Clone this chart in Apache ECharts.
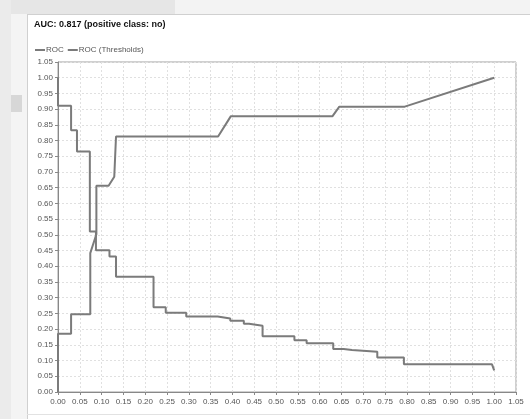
<!DOCTYPE html>
<html>
<head>
<meta charset="utf-8">
<script src="https://cdn.jsdelivr.net/npm/echarts@6/dist/echarts.min.js"></script>
<style>
html,body{margin:0;padding:0;background:#fff;}
#c{width:530px;height:419px;}
</style>
</head>
<body>
<div id="c"></div>
<script>
const titleText = 'AUC: 0.817 (positive class: no)';
const seriesNames = ['ROC', 'ROC (Thresholds)'];

const rocX = [0, 0, 0.030, 0.030, 0.074, 0.074, 0.088, 0.088, 0.116, 0.129, 0.133, 0.133, 0.367, 0.396, 0.629, 0.645, 0.795, 1.0];
const rocY = [0, 0.185, 0.185, 0.247, 0.247, 0.442, 0.502, 0.656, 0.656, 0.685, 0.685, 0.813, 0.813, 0.877, 0.877, 0.908, 0.908, 1.0];

const thrX = [0, 0, 0.030, 0.030, 0.0435, 0.0435, 0.073, 0.073, 0.087, 0.087, 0.118, 0.118, 0.133, 0.133, 0.219, 0.219, 0.247, 0.247, 0.294, 0.294, 0.366, 0.366, 0.395, 0.395, 0.426, 0.426, 0.438, 0.438, 0.469, 0.469, 0.542, 0.542, 0.570, 0.570, 0.631, 0.631, 0.655, 0.655, 0.674, 0.674, 0.732, 0.732, 0.793, 0.793, 0.995, 1.0];
const thrY = [1.0, 0.911, 0.911, 0.833, 0.833, 0.765, 0.765, 0.511, 0.511, 0.451, 0.451, 0.431, 0.431, 0.367, 0.367, 0.270, 0.270, 0.252, 0.252, 0.240, 0.240, 0.234, 0.234, 0.227, 0.227, 0.217, 0.217, 0.211, 0.211, 0.177, 0.177, 0.165, 0.165, 0.155, 0.155, 0.137, 0.137, 0.134, 0.134, 0.128, 0.128, 0.110, 0.110, 0.088, 0.088, 0.069];

const axisMin = 0, axisMax = 1.05, axisStep = 0.05;

const pairs = (xs, ys) => xs.map((x, i) => [x, ys[i]]);
const lineColor = '#7b7b7b';
const font = 'Liberation Sans, Arial, sans-serif';

const chart = echarts.init(document.getElementById('c'), null, {renderer: 'canvas'});
chart.setOption({
  backgroundColor: '#ffffff',
  animation: false,
  graphic: [
    {type: 'rect', z: -10, shape: {x: 0, y: 0, width: 530, height: 14}, style: {fill: '#e6e6e6'}},
    {type: 'rect', z: -10, shape: {x: 175, y: 0, width: 355, height: 14}, style: {fill: '#f3f3f3'}},
    {type: 'rect', z: -10, shape: {x: 0, y: 0, width: 11, height: 419}, style: {fill: '#ebebeb'}},
    {type: 'rect', z: -10, shape: {x: 11, y: 14, width: 16, height: 405}, style: {fill: '#f4f4f4'}},
    {type: 'rect', z: -10, shape: {x: 11, y: 95, width: 11, height: 17}, style: {fill: '#d7d7d7'}},
    {type: 'line', z: -10, shape: {x1: 27.5, y1: 14, x2: 27.5, y2: 419}, style: {stroke: '#d0d0d0', lineWidth: 1}},
    {type: 'line', z: -10, shape: {x1: 27, y1: 14.5, x2: 530, y2: 14.5}, style: {stroke: '#d0d0d0', lineWidth: 1}},
    {type: 'line', z: -10, shape: {x1: 27, y1: 414.5, x2: 530, y2: 414.5}, style: {stroke: '#e2e2e2', lineWidth: 1}},
    {type: 'text', left: 34, top: 20, style: {text: titleText, font: 'bold 9px ' + font, fill: '#111'}}
  ],
  legend: {
    left: 30, top: 41,
    itemWidth: 10, itemHeight: 2, itemGap: 4,
    icon: 'rect',
    textStyle: {fontSize: 8, color: '#555', fontFamily: font, padding: [0, 0, 0, -4]},
    data: seriesNames
  },
  grid: {left: 58, right: 14, top: 62, bottom: 27, show: true, borderColor: '#a0a0a0', borderWidth: 1, backgroundColor: '#fff'},
  xAxis: {
    type: 'value', min: axisMin, max: axisMax, interval: axisStep,
    axisLine: {show: true, lineStyle: {color: '#888', width: 1}},
    axisTick: {show: true, length: 3, lineStyle: {color: '#888'}},
    axisLabel: {fontSize: 8, color: '#555', fontFamily: font, margin: 6, formatter: v => v.toFixed(2), showMaxLabel: true, showMinLabel: true},
    splitLine: {show: true, lineStyle: {color: '#e0e0e0', type: [2, 2]}}
  },
  yAxis: {
    type: 'value', min: axisMin, max: axisMax, interval: axisStep,
    axisLine: {show: true, lineStyle: {color: '#888', width: 1}},
    axisTick: {show: true, length: 3, lineStyle: {color: '#888'}},
    axisLabel: {fontSize: 8, color: '#555', fontFamily: font, margin: 5, formatter: v => v.toFixed(2), showMaxLabel: true, showMinLabel: true},
    splitLine: {show: true, lineStyle: {color: '#e0e0e0', type: [2, 2]}}
  },
  series: [
    {name: seriesNames[0], type: 'line', symbol: 'none', data: pairs(rocX, rocY), lineStyle: {color: lineColor, width: 2}, itemStyle: {color: lineColor}},
    {name: seriesNames[1], type: 'line', symbol: 'none', data: pairs(thrX, thrY), lineStyle: {color: lineColor, width: 2}, itemStyle: {color: lineColor}}
  ]
});
</script>
</body>
</html>
